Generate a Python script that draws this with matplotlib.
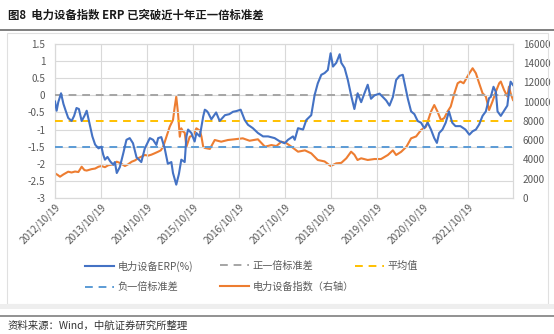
import matplotlib
matplotlib.use("Agg")
import pandas as pd
import matplotlib.pyplot as plt
from matplotlib.lines import Line2D
from matplotlib.patches import Rectangle

plt.rcParams["font.family"] = ["Noto Sans CJK SC", "DejaVu Sans"]
plt.rcParams["axes.unicode_minus"] = False

# ERP of the power-equipment index (%), left axis
erp_dates = [
    "2012-10-19", "2012-11-01", "2012-11-14", "2012-12-06", "2012-12-25", "2013-01-12",
    "2013-02-01", "2013-02-28", "2013-03-20", "2013-04-08", "2013-04-27", "2013-05-19",
    "2013-06-10", "2013-06-28", "2013-07-25", "2013-08-12", "2013-09-03", "2013-09-30",
    "2013-10-23", "2013-11-06", "2013-11-20", "2013-12-10", "2014-01-01", "2014-01-26",
    "2014-02-07", "2014-02-22", "2014-03-18", "2014-04-15", "2014-05-10", "2014-06-05",
    "2014-07-01", "2014-07-29", "2014-09-05", "2014-10-03", "2014-11-12", "2014-12-08",
    "2015-01-03", "2015-01-17", "2015-02-11", "2015-03-10", "2015-04-04", "2015-05-02",
    "2015-05-15", "2015-06-10", "2015-07-01", "2015-07-20", "2015-08-16", "2015-08-30",
    "2015-09-12", "2015-10-08", "2015-11-03", "2015-11-17", "2015-12-14", "2016-01-10",
    "2016-01-23", "2016-02-05", "2016-02-17", "2016-03-15", "2016-04-22", "2016-05-20",
    "2016-07-01", "2016-08-05", "2016-09-03", "2016-09-30", "2016-11-03", "2016-12-05",
    "2016-12-31", "2017-02-08", "2017-03-20", "2017-04-30", "2017-06-09", "2017-07-31",
    "2017-09-08", "2017-10-19", "2017-11-14", "2017-12-24", "2018-01-07", "2018-02-02",
    "2018-03-14", "2018-04-09", "2018-05-18", "2018-06-14", "2018-07-09", "2018-08-06",
    "2018-09-01", "2018-09-27", "2018-10-19", "2018-11-07", "2018-12-03", "2018-12-30",
    "2019-01-12", "2019-02-07", "2019-03-05", "2019-03-31", "2019-04-26", "2019-05-22",
    "2019-06-19", "2019-07-15", "2019-08-10", "2019-09-05", "2019-10-03", "2019-11-12",
    "2019-12-08", "2020-01-04", "2020-01-30", "2020-02-26", "2020-03-23", "2020-04-19",
    "2020-05-15", "2020-05-29", "2020-06-24", "2020-07-20", "2020-08-15", "2020-09-10",
    "2020-10-07", "2020-11-02", "2020-11-29", "2020-12-25", "2021-01-20", "2021-02-10",
    "2021-02-28", "2021-03-26", "2021-04-21", "2021-05-17", "2021-06-12", "2021-07-08",
    "2021-08-16", "2021-09-25", "2021-10-26", "2021-11-21", "2021-12-17", "2022-01-12",
    "2022-02-08", "2022-03-06", "2022-04-01", "2022-04-14", "2022-05-06", "2022-05-25",
    "2022-06-07", "2022-07-03", "2022-07-29", "2022-08-24", "2022-09-06", "2022-09-19",
    "2022-10-08",
]
erp_values = [
    -0.18, -0.45, -0.20, 0.06, -0.25, -0.45,
    -0.66, -0.75, -0.60, -0.37, -0.40, -0.75,
    -0.60, -0.45, -0.90, -1.20, -1.44, -1.55,
    -1.50, -1.73, -1.88, -1.80, -1.93, -2.03,
    -1.95, -2.27, -2.10, -1.69, -1.30, -1.25,
    -1.40, -1.81, -1.95, -1.55, -1.25, -1.30,
    -1.45, -1.25, -1.22, -1.55, -2.00, -1.95,
    -2.27, -2.61, -2.30, -1.88, -1.95, -1.20,
    -1.00, -1.10, -1.35, -1.10, -1.20, -0.62,
    -0.42, -0.45, -0.50, -0.70, -0.50, -0.75,
    -0.58, -0.55, -0.48, -0.46, -0.42, -0.72,
    -0.86, -0.96, -1.10, -1.20, -1.20, -1.25,
    -1.34, -1.40, -1.30, -1.20, -1.30, -0.96,
    -1.00, -0.72, -0.58, 0.01, 0.35, 0.60,
    0.65, 0.74, 1.23, 0.84, 0.95, 1.20,
    0.95, 0.80, 0.45, 0.00, -0.40, 0.06,
    -0.20, 0.06, 0.31, -0.10, 0.00, 0.05,
    -0.05, -0.15, -0.30, -0.05, 0.45, 0.57,
    0.60, 0.35, -0.10, -0.47, -0.55, -0.75,
    -0.80, -0.96, -0.80, -1.00, -1.25, -1.39,
    -1.10, -1.00, -0.80, -0.47, -0.80, -0.90,
    -0.90, -1.00, -1.15, -1.05, -1.00, -0.85,
    -0.60, -0.47, -0.08, -0.05, 0.25, 0.10,
    -0.47, -0.60, -0.45, -0.30, 0.10, 0.40,
    0.30,
]

# power-equipment index level, right axis
idx_dates = [
    "2012-10-19", "2012-11-09", "2012-11-28", "2012-12-25", "2013-02-01", "2013-02-28",
    "2013-03-27", "2013-04-23", "2013-05-19", "2013-06-10", "2013-06-28", "2013-08-06",
    "2013-09-03", "2013-09-30", "2013-10-23", "2013-11-20", "2013-12-16", "2014-01-26",
    "2014-02-22", "2014-03-18", "2014-04-28", "2014-05-23", "2014-06-21", "2014-07-16",
    "2014-08-11", "2014-09-06", "2014-10-03", "2014-10-29", "2014-11-24", "2014-12-21",
    "2015-01-17", "2015-02-07", "2015-02-26", "2015-03-24", "2015-04-19", "2015-05-15",
    "2015-05-29", "2015-06-10", "2015-06-24", "2015-07-08", "2015-07-20", "2015-08-03",
    "2015-08-16", "2015-08-30", "2015-09-25", "2015-10-22", "2015-11-17", "2015-12-14",
    "2015-12-27", "2016-01-10", "2016-01-23", "2016-03-03", "2016-04-11", "2016-06-01",
    "2016-07-25", "2016-09-15", "2016-11-20", "2017-01-13", "2017-03-20", "2017-05-15",
    "2017-07-05", "2017-08-14", "2017-09-23", "2017-11-01", "2017-12-12", "2018-02-02",
    "2018-03-29", "2018-05-18", "2018-07-09", "2018-09-01", "2018-10-19", "2018-12-03",
    "2019-01-12", "2019-02-21", "2019-03-31", "2019-04-26", "2019-05-21", "2019-06-19",
    "2019-08-10", "2019-10-03", "2019-11-24", "2020-01-17", "2020-02-26", "2020-03-23",
    "2020-05-02", "2020-06-13", "2020-07-20", "2020-08-29", "2020-10-07", "2020-11-15",
    "2020-12-25", "2021-01-20", "2021-02-15", "2021-03-14", "2021-04-09", "2021-05-05",
    "2021-05-31", "2021-06-29", "2021-07-25", "2021-08-16", "2021-09-10", "2021-10-26",
    "2021-11-21", "2021-12-17", "2022-01-12", "2022-02-08", "2022-03-06", "2022-04-01",
    "2022-04-27", "2022-05-25", "2022-06-20", "2022-07-03", "2022-07-29", "2022-08-24",
    "2022-09-06", "2022-09-19", "2022-10-08",
]
idx_values = [
    2566, 2400, 2213, 2450, 2733, 2650,
    2750, 2700, 3252, 2900, 2850, 3000,
    3060, 3250, 3325, 3200, 3400, 3500,
    3772, 3650, 3325, 3500, 3772, 3900,
    4125, 4300, 4468, 4400, 4500, 4650,
    4811, 4950, 5330, 6369, 7408, 8104,
    9486, 10525, 8800, 6369, 7242, 6900,
    6800, 5330, 6369, 6500, 7242, 7000,
    6400, 5330, 5200, 5100, 6026, 5850,
    6026, 6100, 6200, 5950, 6100, 5330,
    5500, 5400, 5850, 5700, 5330, 4811,
    4950, 4640, 3948, 3800, 3325, 3600,
    3650, 4125, 4811, 4500, 3948, 4125,
    3950, 4050, 4050, 4468, 4950, 4468,
    4800, 5330, 6200, 6400, 7065, 7400,
    8970, 9660, 8970, 8104, 8300, 8970,
    9500, 10880, 11920, 12100, 11920, 12960,
    13480, 12960, 11920, 10880, 10550, 9140,
    10000, 11050, 11920, 12100, 11220, 10550,
    11570, 10880, 10180,
]

erp_mean = -0.75
erp_plus_std = 0.0
erp_minus_std = -1.5

tick_dates = ["2012-10-19", "2013-10-19", "2014-10-19", "2015-10-19", "2016-10-19",
              "2017-10-19", "2018-10-19", "2019-10-19", "2020-10-19", "2021-10-19"]
left_ticks = [1.5, 1, 0.5, 0, -0.5, -1, -1.5, -2, -2.5, -3]
right_ticks = [0, 2000, 4000, 6000, 8000, 10000, 12000, 14000, 16000]

BLUE = "#4472C4"
ORANGE = "#ED7D31"
GREY = "#A5A5A5"
GOLD = "#FFC000"
LBLUE = "#5B9BD5"
TXT = "#595959"
GRID = "#D9D9D9"

erp_x = pd.to_datetime(erp_dates)
idx_x = pd.to_datetime(idx_dates)
tick_x = pd.to_datetime(tick_dates)
x0, x1 = pd.Timestamp("2012-10-19"), pd.Timestamp("2022-10-08")

fig = plt.figure(figsize=(5.54, 3.34), dpi=100)

# page decoration: title, rules, chart frame
fig.text(8 / 554, 1 - 15 / 334, "图8  电力设备指数 ERP 已突破近十年正一倍标准差",
         fontsize=8.2, fontweight="bold", color="#1a1a1a", va="center", ha="left")
fig.add_artist(Line2D([0, 1], [1 - 30 / 334] * 2, color="#7f7f7f", lw=1.4))
fig.add_artist(Rectangle((7 / 554, 1 - 304 / 334), 541 / 554, 271 / 334,
                         fill=False, ec="#e0e0e0", lw=0.8))
fig.add_artist(Rectangle((0, 1 - 309 / 334), 1, 5 / 334, fc="#eeeeee", ec="none"))
fig.add_artist(Line2D([0, 1], [1 - 316 / 334] * 2, color="#7f7f7f", lw=1.2))
fig.text(8 / 554, 1 - 326 / 334, "资料来源：Wind，中航证券研究所整理",
         fontsize=7.5, color="#333333", va="center", ha="left")

ax = fig.add_axes([55 / 554, 1 - 198 / 334, 458 / 554, 154 / 334])
ax2 = ax.twinx()

ax.plot(erp_x, erp_values, color=BLUE, lw=1.5, zorder=4)
ax.axhline(erp_plus_std, color=GREY, lw=1.4, ls=(0, (4, 3)), zorder=3)
ax.axhline(erp_mean, color=GOLD, lw=1.4, ls=(0, (4, 3)), zorder=3)
ax.axhline(erp_minus_std, color=LBLUE, lw=1.4, ls=(0, (4, 3)), zorder=3)
ax2.plot(idx_x, idx_values, color=ORANGE, lw=1.5, zorder=4)

ax.set_zorder(ax2.get_zorder() + 1)
ax.patch.set_visible(False)

ax.set_xlim(x0, x1)
ax.set_ylim(-3, 1.5)
ax.set_yticks(left_ticks)
ax.set_yticklabels([f"{v:g}" for v in left_ticks])
ax2.set_ylim(0, 16000)
ax2.set_yticks(right_ticks)

ax.set_xticks(tick_x)
ax.set_xticklabels([d.strftime("%Y/%m/%d") for d in tick_x], rotation=45,
                   ha="right", rotation_mode="anchor")
ax.yaxis.grid(True, color=GRID, lw=0.8)
ax.xaxis.grid(True, color=GRID, lw=0.8)
for a in (ax, ax2):
    a.tick_params(length=0, labelsize=7.2, labelcolor=TXT)
    for s in a.spines.values():
        s.set_color(GRID)
        s.set_linewidth(0.8)
ax.tick_params(axis="y", pad=7)
ax2.tick_params(axis="y", pad=7)
ax.tick_params(axis="x", pad=3)

# legend in three columns placed like the Excel layout
h_erp = Line2D([], [], color=BLUE, lw=1.5)
h_pos = Line2D([], [], color=GREY, lw=1.4, ls=(0, (4, 3)))
h_mean = Line2D([], [], color=GOLD, lw=1.4, ls=(0, (4, 3)))
h_neg = Line2D([], [], color=LBLUE, lw=1.4, ls=(0, (4, 3)))
h_idx = Line2D([], [], color=ORANGE, lw=1.5)
cols = [
    (85, [h_erp, h_neg], ["电力设备ERP(%)", "负一倍标准差"]),
    (220, [h_pos, h_idx], ["正一倍标准差", "电力设备指数（右轴）"]),
    (355, [h_mean], ["平均值"]),
]
for xpix, hs, labs in cols:
    leg = fig.legend(hs, labs, loc="upper left", bbox_to_anchor=(xpix / 554, 1 - 261 / 334),
                     frameon=False, fontsize=7.3, handlelength=2.9, handletextpad=0.3,
                     labelspacing=1.0, borderaxespad=0, borderpad=0)
    for t in leg.get_texts():
        t.set_color(TXT)

fig.savefig("out.png", dpi=100, facecolor="white")
